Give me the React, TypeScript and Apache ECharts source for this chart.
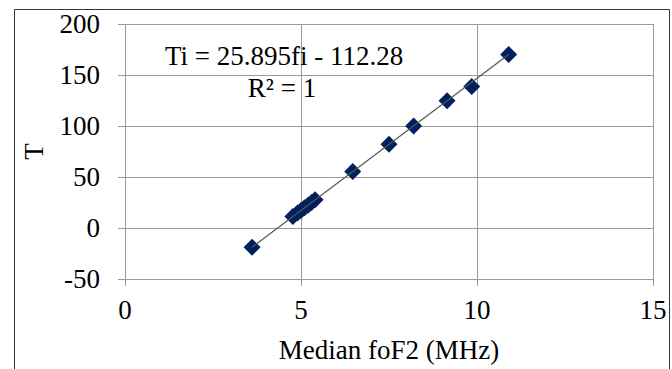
import React, { useEffect, useRef } from "react";
import * as echarts from "echarts";

const foF2 = [3.61, 4.77, 4.9, 5.0, 5.1, 5.2, 5.3, 5.4, 6.47, 7.5, 8.2, 9.15, 9.85, 10.9];
const tValues = [-18.8, 11.2, 14.6, 17.2, 19.8, 22.4, 25.0, 27.6, 55.3, 82.0, 100.1, 124.7, 138.8, 170.0];
const trendX = [3.61, 10.9];
const trendY = [-18.8, 170.0];
const equationText = "Ti = 25.895fi - 112.28";
const r2Text = "R² = 1";
const xTitle = "Median foF2 (MHz)";
const yTitle = "T";

export default function App() {
  const ref = useRef<HTMLDivElement>(null);
  useEffect(() => {
    if (!ref.current) return;
    const chart = echarts.init(ref.current, null, { renderer: "svg" });
    const font = "Liberation Serif";
    const gridColor = "#9a9a9a";
    const fs = 27;
    chart.setOption({
      animation: false,
      backgroundColor: "#ffffff",
      grid: { left: 125, right: 19, top: 24, bottom: 90 },
      xAxis: {
        type: "value",
        min: 0,
        max: 15,
        interval: 5,
        name: xTitle,
        nameLocation: "middle",
        nameGap: 57,
        nameTextStyle: { fontFamily: font, fontSize: fs, color: "#000" },
        axisLine: { show: true, onZero: false, lineStyle: { color: gridColor, width: 1 } },
        axisTick: { show: true, length: 7, lineStyle: { color: gridColor } },
        axisLabel: { fontFamily: font, fontSize: fs, color: "#000", margin: 17 },
        splitLine: { show: true, lineStyle: { color: gridColor, width: 1 } },
      },
      yAxis: {
        type: "value",
        min: -50,
        max: 200,
        interval: 50,
        name: yTitle,
        nameLocation: "middle",
        nameGap: 78,
        nameTextStyle: { fontFamily: font, fontSize: fs, color: "#000" },
        axisLine: { show: true, onZero: false, lineStyle: { color: gridColor, width: 1 } },
        axisTick: { show: true, length: 7, lineStyle: { color: gridColor } },
        axisLabel: { fontFamily: font, fontSize: fs, color: "#000", margin: 25 },
        splitLine: { show: true, lineStyle: { color: gridColor, width: 1 } },
      },
      series: [
        {
          type: "scatter",
          data: foF2.map((x, i) => [x, tValues[i]]),
          symbol: "diamond",
          symbolSize: 17,
          itemStyle: { color: "#00215e", opacity: 1 },
          z: 2,
        },
        {
          type: "line",
          data: trendX.map((x, i) => [x, trendY[i]]),
          symbol: "none",
          lineStyle: { color: "#555555", width: 1.2 },
          z: 3,
        },
      ],
      graphic: [
        {
          type: "rect",
          shape: { x: 14.5, y: 9.5, width: 655, height: 400 },
          style: { fill: "none", stroke: "#333333", lineWidth: 1 },
          silent: true,
        },
        {
          type: "text",
          x: 284,
          y: 56,
          style: {
            text: equationText,
            fontFamily: font,
            fontSize: fs,
            fill: "#000",
            align: "center",
            verticalAlign: "middle",
          },
          z: 10,
        },
        {
          type: "text",
          x: 282,
          y: 88,
          style: {
            text: r2Text,
            fontFamily: font,
            fontSize: fs,
            fill: "#000",
            align: "center",
            verticalAlign: "middle",
          },
          z: 10,
        },
      ],
    });
    return () => chart.dispose();
  }, []);
  return (
    <div
      ref={ref}
      style={{ position: "fixed", left: 0, top: 0, width: 672, height: 369 }}
    />
  );
}
